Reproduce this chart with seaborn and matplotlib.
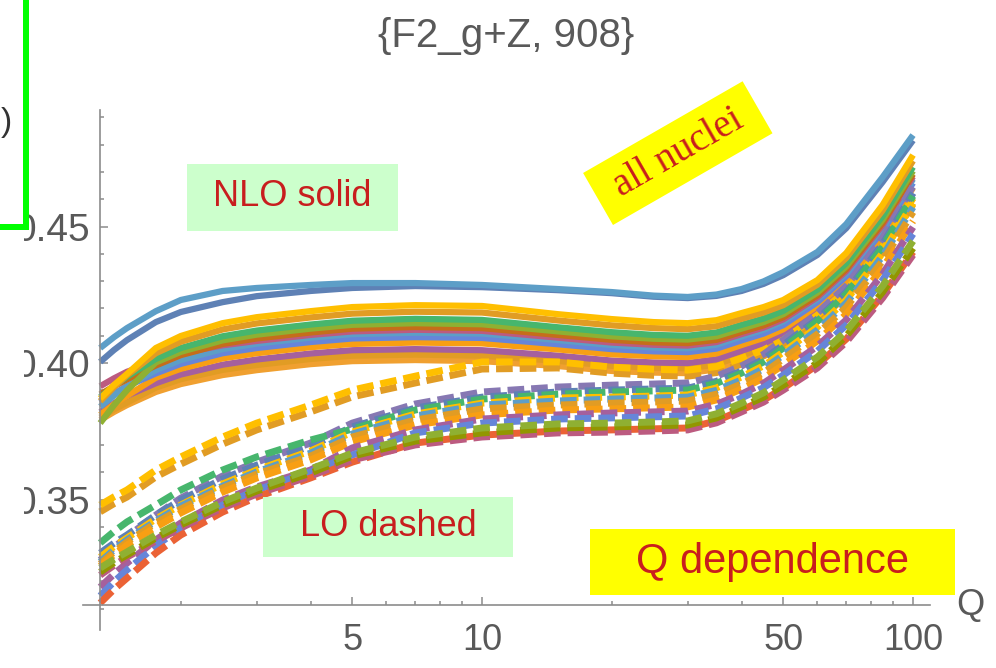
import matplotlib
matplotlib.use("Agg")
import matplotlib.pyplot as plt
import matplotlib.patches as mpatches
from matplotlib.ticker import NullFormatter
import seaborn as sns

# ---------------- data ----------------
Q = [1.3, 1.4, 1.5, 1.75, 2, 2.5, 3, 4, 5, 7, 10, 15, 20, 25, 30, 35, 40, 45, 50, 60, 70, 85, 100]

# NLO (solid) curves
nlo_top     = [0.4055, 0.4095, 0.4128, 0.4190, 0.4231, 0.4264, 0.4275, 0.4286, 0.4293, 0.4293, 0.4286, 0.4271, 0.4260, 0.4247, 0.4242, 0.4251, 0.4271, 0.4299, 0.4333, 0.4407, 0.4509, 0.4681, 0.4835]
nlo_blue    = [0.4004, 0.4048, 0.4084, 0.4150, 0.4187, 0.4223, 0.4245, 0.4264, 0.4275, 0.4282, 0.4278, 0.4267, 0.4256, 0.4243, 0.4238, 0.4246, 0.4264, 0.4290, 0.4322, 0.4396, 0.4494, 0.4663, 0.4816]
nlo_yellow  = [0.3870, 0.3920, 0.3960, 0.4055, 0.4099, 0.4146, 0.4168, 0.4190, 0.4205, 0.4212, 0.4209, 0.4179, 0.4161, 0.4150, 0.4146, 0.4157, 0.4183, 0.4205, 0.4231, 0.4304, 0.4403, 0.4579, 0.4762]
nlo_orange1 = [0.3860, 0.3912, 0.3955, 0.4036, 0.4078, 0.4123, 0.4145, 0.4167, 0.4181, 0.4188, 0.4185, 0.4156, 0.4138, 0.4128, 0.4124, 0.4135, 0.4162, 0.4185, 0.4212, 0.4287, 0.4385, 0.4559, 0.4741]
nlo_green   = [0.3875, 0.3916, 0.3950, 0.4015, 0.4055, 0.4098, 0.4119, 0.4141, 0.4155, 0.4162, 0.4158, 0.4131, 0.4113, 0.4103, 0.4100, 0.4112, 0.4140, 0.4163, 0.4191, 0.4269, 0.4366, 0.4538, 0.4718]
nlo_olive   = [0.3780, 0.3846, 0.3900, 0.4002, 0.4041, 0.4083, 0.4104, 0.4126, 0.4140, 0.4146, 0.4142, 0.4116, 0.4098, 0.4089, 0.4086, 0.4098, 0.4126, 0.4150, 0.4179, 0.4258, 0.4354, 0.4525, 0.4704]
nlo_brown   = [0.3885, 0.3915, 0.3940, 0.3991, 0.4029, 0.4070, 0.4090, 0.4112, 0.4126, 0.4132, 0.4128, 0.4103, 0.4085, 0.4076, 0.4073, 0.4085, 0.4114, 0.4138, 0.4168, 0.4248, 0.4344, 0.4513, 0.4692]
nlo_pink    = [0.3915, 0.3944, 0.3968, 0.4005, 0.4035, 0.4065, 0.4081, 0.4103, 0.4116, 0.4122, 0.4118, 0.4093, 0.4075, 0.4067, 0.4064, 0.4077, 0.4106, 0.4130, 0.4160, 0.4241, 0.4337, 0.4505, 0.4683]
nlo_ltblue  = [0.3840, 0.3881, 0.3915, 0.3974, 0.4011, 0.4051, 0.4071, 0.4093, 0.4106, 0.4111, 0.4108, 0.4084, 0.4066, 0.4057, 0.4054, 0.4067, 0.4097, 0.4122, 0.4152, 0.4234, 0.4329, 0.4496, 0.4674]
nlo_blue2   = [0.3855, 0.3888, 0.3915, 0.3962, 0.3997, 0.4036, 0.4055, 0.4077, 0.4090, 0.4095, 0.4092, 0.4069, 0.4051, 0.4043, 0.4040, 0.4053, 0.4083, 0.4108, 0.4139, 0.4223, 0.4318, 0.4483, 0.4660]
nlo_orange2 = [0.3810, 0.3849, 0.3880, 0.3946, 0.3979, 0.4017, 0.4036, 0.4058, 0.4070, 0.4075, 0.4072, 0.4050, 0.4032, 0.4025, 0.4022, 0.4035, 0.4066, 0.4092, 0.4124, 0.4209, 0.4303, 0.4467, 0.4642]
nlo_purple  = [0.3820, 0.3853, 0.3880, 0.3926, 0.3958, 0.3994, 0.4013, 0.4035, 0.4047, 0.4051, 0.4047, 0.4027, 0.4009, 0.4002, 0.4000, 0.4014, 0.4045, 0.4072, 0.4105, 0.4193, 0.4285, 0.4447, 0.4621]
nlo_orange3 = [0.3800, 0.3830, 0.3855, 0.3910, 0.3941, 0.3975, 0.3993, 0.4015, 0.4027, 0.4031, 0.4027, 0.4008, 0.3990, 0.3983, 0.3981, 0.3995, 0.4028, 0.4055, 0.4089, 0.4179, 0.4271, 0.4430, 0.4604]
nlo_bottom  = [0.3791, 0.3821, 0.3846, 0.3894, 0.3923, 0.3956, 0.3974, 0.3996, 0.4007, 0.4011, 0.4007, 0.3989, 0.3971, 0.3965, 0.3963, 0.3977, 0.4011, 0.4039, 0.4073, 0.4165, 0.4256, 0.4414, 0.4586]

# LO (dashed) curves
lo_yellow_a = [0.3480, 0.3510, 0.3535, 0.3608, 0.3656, 0.3729, 0.3780, 0.3846, 0.3901, 0.3952, 0.4004, 0.4004, 0.3985, 0.3977, 0.3974, 0.3987, 0.4018, 0.4048, 0.4084, 0.4176, 0.4267, 0.4428, 0.4604]
lo_yellow_b = [0.3455, 0.3485, 0.3509, 0.3583, 0.3630, 0.3703, 0.3755, 0.3821, 0.3876, 0.3927, 0.3978, 0.3982, 0.3963, 0.3955, 0.3952, 0.3965, 0.3996, 0.4026, 0.4062, 0.4154, 0.4245, 0.4406, 0.4582]
lo_purple1  = [0.3278, 0.3325, 0.3363, 0.3443, 0.3505, 0.3586, 0.3637, 0.3707, 0.3780, 0.3850, 0.3894, 0.3912, 0.3919, 0.3923, 0.3927, 0.3952, 0.3989, 0.4032, 0.4084, 0.4183, 0.4282, 0.4458, 0.4648]
lo_blue1    = [0.3304, 0.3340, 0.3370, 0.3443, 0.3498, 0.3575, 0.3626, 0.3696, 0.3766, 0.3835, 0.3875, 0.3894, 0.3901, 0.3905, 0.3908, 0.3933, 0.3971, 0.4014, 0.4066, 0.4161, 0.4260, 0.4436, 0.4623]
lo_green    = [0.3341, 0.3383, 0.3418, 0.3480, 0.3535, 0.3608, 0.3656, 0.3718, 0.3758, 0.3828, 0.3868, 0.3886, 0.3894, 0.3898, 0.3901, 0.3926, 0.3963, 0.4004, 0.4055, 0.4154, 0.4253, 0.4425, 0.4612]
lo_yellow   = [0.3289, 0.3328, 0.3359, 0.3429, 0.3480, 0.3557, 0.3608, 0.3678, 0.3747, 0.3813, 0.3853, 0.3872, 0.3875, 0.3879, 0.3883, 0.3909, 0.3949, 0.3990, 0.4040, 0.4132, 0.4231, 0.4403, 0.4586]
lo_ltblue   = [0.3271, 0.3316, 0.3352, 0.3421, 0.3476, 0.3549, 0.3601, 0.3670, 0.3740, 0.3806, 0.3846, 0.3861, 0.3868, 0.3872, 0.3875, 0.3900, 0.3938, 0.3979, 0.4029, 0.4121, 0.4220, 0.4392, 0.4571]
lo_orange1  = [0.3264, 0.3308, 0.3344, 0.3414, 0.3465, 0.3542, 0.3593, 0.3659, 0.3729, 0.3791, 0.3832, 0.3846, 0.3853, 0.3857, 0.3861, 0.3886, 0.3923, 0.3964, 0.4015, 0.4106, 0.4205, 0.4374, 0.4553]
lo_orange2  = [0.3256, 0.3298, 0.3333, 0.3399, 0.3451, 0.3527, 0.3579, 0.3645, 0.3711, 0.3773, 0.3810, 0.3828, 0.3832, 0.3836, 0.3839, 0.3865, 0.3905, 0.3945, 0.3993, 0.4081, 0.4179, 0.4348, 0.4520]
lo_purple2  = [0.3179, 0.3227, 0.3267, 0.3352, 0.3414, 0.3498, 0.3546, 0.3608, 0.3689, 0.3755, 0.3795, 0.3810, 0.3817, 0.3821, 0.3824, 0.3849, 0.3886, 0.3926, 0.3974, 0.4062, 0.4158, 0.4326, 0.4498]
lo_blue2    = [0.3147, 0.3199, 0.3242, 0.3330, 0.3396, 0.3480, 0.3535, 0.3601, 0.3663, 0.3744, 0.3780, 0.3795, 0.3799, 0.3803, 0.3806, 0.3832, 0.3872, 0.3910, 0.3956, 0.4044, 0.4139, 0.4304, 0.4473]
lo_red      = [0.3121, 0.3171, 0.3212, 0.3304, 0.3370, 0.3454, 0.3509, 0.3579, 0.3637, 0.3707, 0.3736, 0.3751, 0.3755, 0.3759, 0.3762, 0.3788, 0.3828, 0.3864, 0.3908, 0.3993, 0.4088, 0.4249, 0.4407]
lo_pink     = [0.3223, 0.3259, 0.3289, 0.3348, 0.3396, 0.3469, 0.3520, 0.3586, 0.3645, 0.3700, 0.3729, 0.3744, 0.3747, 0.3751, 0.3755, 0.3781, 0.3821, 0.3857, 0.3901, 0.3982, 0.4077, 0.4238, 0.4396]
lo_olive2   = [0.3234, 0.3269, 0.3297, 0.3359, 0.3407, 0.3480, 0.3531, 0.3597, 0.3659, 0.3714, 0.3744, 0.3762, 0.3766, 0.3770, 0.3773, 0.3799, 0.3839, 0.3875, 0.3919, 0.4000, 0.4099, 0.4260, 0.4421]
lo_olive    = [0.3249, 0.3281, 0.3308, 0.3370, 0.3418, 0.3491, 0.3542, 0.3612, 0.3670, 0.3729, 0.3762, 0.3777, 0.3780, 0.3784, 0.3788, 0.3814, 0.3853, 0.3891, 0.3938, 0.4022, 0.4117, 0.4282, 0.4447]

x_major = [5, 10, 50, 100]
x_major_labels = ["5", "10", "50", "100"]
x_minor = [2, 3, 4, 6, 7, 8, 9, 20, 30, 40, 60, 70, 80, 90]
y_major = [0.35, 0.40, 0.45]
y_major_labels = ["0.35", "0.40", "0.45"]
y_minor = [0.31, 0.32, 0.33, 0.34, 0.36, 0.37, 0.38, 0.39, 0.41, 0.42, 0.43, 0.44, 0.46, 0.47, 0.48, 0.49]

title_text = "{F2_g+Z, 908}"

# ---------------- styling ----------------
sns.set_style("white")
plt.rcParams["font.family"] = ["Liberation Sans", "DejaVu Sans"]

RED = "#C81E1E"
GREY_TXT = "#595959"
GREY_AX = "#8c8c8c"

fig = plt.figure(figsize=(9.96, 6.68), dpi=100)
ax = fig.add_axes([83 / 996, 1 - 630 / 668, 847 / 996, 520 / 668])
ax.set_xscale("log")

LW = 4.5
solid = [
    (nlo_blue, "#5E81B5"), (nlo_top, "#5D9EC7"),
    (nlo_bottom, "#F0A030"), (nlo_orange3, "#E19C24"), (nlo_purple, "#A5609D"),
    (nlo_orange2, "#F89F13"), (nlo_blue2, "#6685D9"), (nlo_ltblue, "#5D9EC7"),
    (nlo_pink, "#BC5B80"), (nlo_brown, "#C56E1A"), (nlo_olive, "#8FB032"),
    (nlo_green, "#47B66D"), (nlo_orange1, "#E19C24"), (nlo_yellow, "#FFBF00"),
]
for vals, col in solid:
    sns.lineplot(x=Q, y=vals, color=col, linewidth=LW, ax=ax,
                 solid_capstyle="butt", solid_joinstyle="round")

LWD = 5.0
dash = (0, (2.4, 1.0))
dashed = [
    (lo_yellow_b, "#E19C24"), (lo_yellow_a, "#FFBF00"),
    (lo_purple1, "#8778B3"), (lo_blue1, "#5E81B5"), (lo_green, "#47B66D"),
    (lo_yellow, "#FFBF00"), (lo_ltblue, "#5D9EC7"), (lo_orange1, "#E19C24"),
    (lo_orange2, "#F89F13"), (lo_purple2, "#A5609D"), (lo_blue2, "#6685D9"),
    (lo_red, "#EB6235"), (lo_pink, "#BC5B80"), (lo_olive2, "#929600"),
    (lo_olive, "#8FB032"),
]
for vals, col in dashed:
    sns.lineplot(x=Q, y=vals, color=col, linewidth=LWD, ax=ax,
                 linestyle=dash, dash_capstyle="butt")

ax.set_xlim(1.186, 109.5)
ax.set_ylim(0.3022, 0.4927)
ax.set_xlabel("")
ax.set_ylabel("")

for s in ["top", "right"]:
    ax.spines[s].set_visible(False)
ax.spines["left"].set_position(("data", 1.3))
ax.spines["bottom"].set_position(("data", 0.3114))
for s in ["left", "bottom"]:
    ax.spines[s].set_color(GREY_AX)
    ax.spines[s].set_linewidth(1.2)

ax.set_xticks(x_major)
ax.set_xticklabels(x_major_labels)
ax.set_xticks(x_minor, minor=True)
ax.xaxis.set_minor_formatter(NullFormatter())
ax.set_yticks(y_major)
ax.set_yticklabels(y_major_labels)
ax.set_yticks(y_minor, minor=True)

ax.tick_params(which="both", direction="in", bottom=True, left=True,
               color=GREY_AX, width=1.1)
ax.tick_params(which="major", length=6, labelcolor=GREY_TXT)
ax.tick_params(which="minor", length=3)
ax.tick_params(axis="x", which="major", pad=13, labelsize=26)
ax.tick_params(axis="y", which="major", pad=7, labelsize=28)

# ---------------- annotations (pixel layout helpers) ----------------
H = 668
tr = fig.dpi_scale_trans

def box(x0, y0, x1, y1, color, z=5):
    fig.add_artist(mpatches.Rectangle((x0 / 100, (H - y1) / 100), (x1 - x0) / 100,
                                      (y1 - y0) / 100, transform=tr,
                                      facecolor=color, edgecolor="none", zorder=z))

def label(x, y, s, size, color=RED, family=None, rot=0, z=6):
    kw = dict(transform=tr, ha="center", va="center", fontsize=size, color=color,
              rotation=rot, rotation_mode="anchor", zorder=z)
    if family:
        kw["family"] = family
    fig.text(x / 100, (H - y) / 100, s, **kw)

# title
label(506, 36, title_text, 29, color=GREY_TXT)
# axis label Q
label(970, 606, "Q", 26, color=GREY_TXT)

# NLO / LO / Q dependence boxes
box(187, 164, 398, 231, "#CCFFCC")
label(292, 197, "NLO solid", 26)
box(263, 497, 513, 557, "#CCFFCC")
label(388, 527, "LO dashed", 26)
box(590, 529, 955, 595, "#FFFF00")
label(772, 562, "Q dependence", 30)

# rotated "all nuclei" tag
fig.add_artist(mpatches.Rectangle((613 / 100, 443 / 100), 1.84, 0.60, angle=29.9,
                                  transform=tr, facecolor="#FFFF00",
                                  edgecolor="none", zorder=5))
label(678, 153, "all nuclei", 28, family=["Liberation Serif"], rot=29.9)

# left overlay with green frame
box(0, 0, 24, 668, "white", z=7)
box(23, 0, 29, 230, "#00FF00", z=8)
box(0, 224, 29, 230, "#00FF00", z=8)
label(6, 123, ")", 24, color="#333333", z=9)

fig.savefig("out.png", dpi=100)
